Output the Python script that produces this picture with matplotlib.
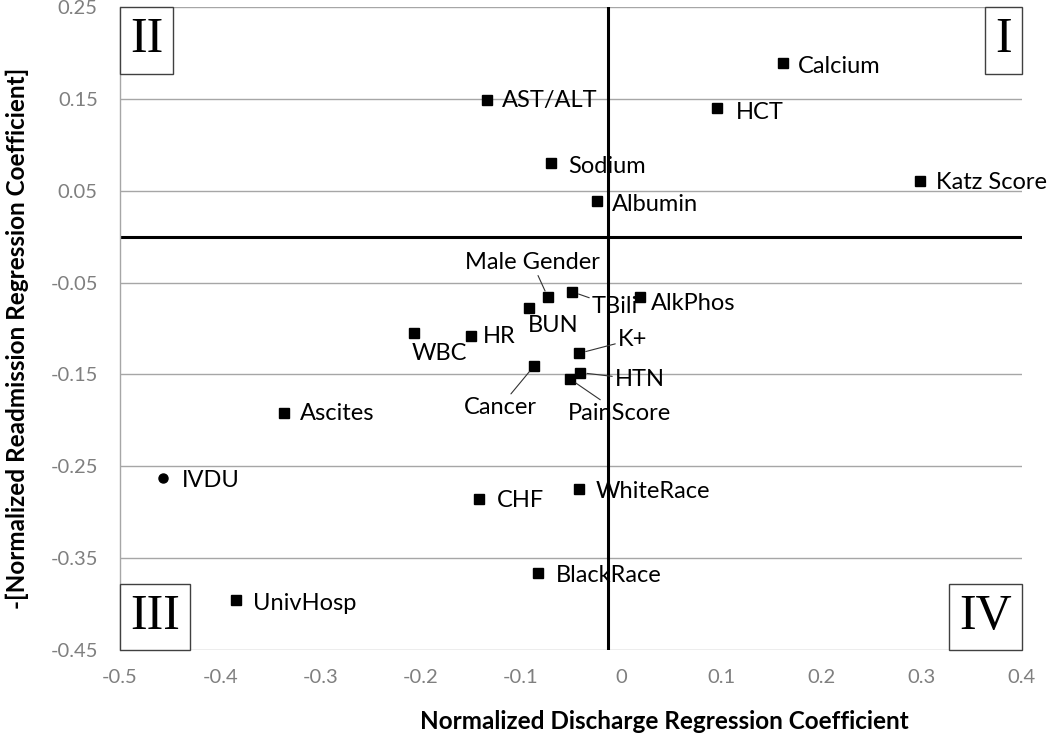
import matplotlib
matplotlib.use("Agg")
import matplotlib.pyplot as plt
from matplotlib.offsetbox import AnchoredText

plt.rcParams['font.family'] = ['Lato', 'DejaVu Sans']

# values
names = ['Calcium', 'HCT', 'Katz Score', 'AST/ALT', 'Sodium', 'Albumin',
         'Male Gender', 'BUN', 'TBili', 'AlkPhos', 'WBC', 'HR', 'K+',
         'Cancer', 'HTN', 'PainScore', 'Ascites', 'IVDU', 'CHF',
         'UnivHosp', 'WhiteRace', 'BlackRace']
discharge = [0.162, 0.096, 0.298, -0.134, -0.070, -0.024,
             -0.073, -0.092, -0.049, 0.019, -0.207, -0.150, -0.042,
             -0.087, -0.041, -0.051, -0.336, -0.457, -0.142,
             -0.384, -0.042, -0.083]
readmission = [0.189, 0.140, 0.061, 0.149, 0.080, 0.039,
               -0.066, -0.078, -0.060, -0.066, -0.105, -0.108, -0.127,
               -0.141, -0.148, -0.155, -0.192, -0.263, -0.286,
               -0.396, -0.275, -0.366]
circle_names = ['IVDU']

x_ticks = [-0.5, -0.4, -0.3, -0.2, -0.1, 0, 0.1, 0.2, 0.3, 0.4]
x_ticklabels = ['-0.5', '-0.4', '-0.3', '-0.2', '-0.1', '0', '0.1', '0.2', '0.3', '0.4']
y_ticks = [0.25, 0.15, 0.05, -0.05, -0.15, -0.25, -0.35, -0.45]
y_ticklabels = ['0.25', '0.15', '0.05', '-0.05', '-0.15', '-0.25', '-0.35', '-0.45']

# quadrant split
x_split = -0.013
y_split = 0.0

# label placement: (dx, dy) in pixels, horizontal alignment, leader line
label_pos = {
    'Calcium': (14, -3, 'left', False),
    'HCT': (19, -4, 'left', False),
    'Katz Score': (16, -2, 'left', False),
    'AST/ALT': (15, -1, 'left', False),
    'Sodium': (17, -3, 'left', False),
    'Albumin': (15, -4, 'left', False),
    'Male Gender': (-16, 35, 'center', True),
    'BUN': (-1, -17, 'left', False),
    'TBili': (20, -15, 'left', True),
    'AlkPhos': (11, -6, 'left', False),
    'WBC': (-2, -20, 'left', False),
    'HR': (12, -1, 'left', False),
    'K+': (39, 14, 'left', True),
    'Cancer': (-34, -41, 'center', True),
    'HTN': (35, -7, 'left', True),
    'PainScore': (-2, -34, 'left', True),
    'Ascites': (16, 0, 'left', False),
    'IVDU': (19, -2, 'left', False),
    'CHF': (18, -1, 'left', False),
    'UnivHosp': (17, -3, 'left', False),
    'WhiteRace': (17, -2, 'left', False),
    'BlackRace': (18, -3, 'left', False),
}

fig = plt.figure(figsize=(10.5, 7.46), dpi=100)
ax = fig.add_axes([120 / 1050, 1 - 650 / 746, 902 / 1050, 643 / 746])

ax.set_xlim(-0.5, 0.4)
ax.set_ylim(-0.45, 0.25)

# grid
for yv in y_ticks:
    ax.axhline(yv, color='#a6a6a6', lw=1.0, zorder=1)
for s in ['top', 'right', 'bottom']:
    ax.spines[s].set_visible(False)
ax.spines['left'].set_color('#a6a6a6')
ax.spines['left'].set_linewidth(1.0)

# quadrant lines
ax.axvline(x_split, color='black', lw=2.2, zorder=2)
ax.axhline(y_split, color='black', lw=2.2, zorder=2)

ax.set_xticks(x_ticks)
ax.set_xticklabels(x_ticklabels)
ax.set_yticks(y_ticks)
ax.set_yticklabels(y_ticklabels)
ax.tick_params(axis='both', length=0, labelsize=14.5, labelcolor='#7f7f7f')
ax.tick_params(axis='y', pad=16)
ax.tick_params(axis='x', pad=14)

for name, xv, yv in zip(names, discharge, readmission):
    marker = 'o' if name in circle_names else 's'
    ms = 6.5 if marker == 'o' else 7.5
    ax.plot(xv, yv, marker=marker, color='black', ms=ms, ls='none', zorder=4)
    dx, dy, ha, leader = label_pos[name]
    arrow = None
    if leader:
        arrow = dict(arrowstyle='-', color='#333333', lw=0.8, shrinkA=0, shrinkB=5)
    ax.annotate(name, (xv, yv), xytext=(dx, dy), textcoords='offset pixels',
                ha=ha, va='center', fontsize=17, color='black',
                arrowprops=arrow, zorder=5)

# quadrant labels
for txt, loc in [('II', 'upper left'), ('I', 'upper right'),
                 ('III', 'lower left'), ('IV', 'lower right')]:
    at = AnchoredText(txt, loc=loc, borderpad=0, pad=0.2, frameon=True,
                      prop=dict(size=36, family=['Liberation Serif', 'DejaVu Serif']))
    at.patch.set_edgecolor('#404040')
    at.patch.set_linewidth(1.0)
    at.set_zorder(6)
    ax.add_artist(at)

ax.set_xlabel('Normalized Discharge Regression Coefficient', fontsize=17.5,
              fontweight='bold')
ax.set_ylabel('-[Normalized Readmission Regression Coefficient]', fontsize=17.5,
              fontweight='bold')
ax.xaxis.set_label_coords(0.604, -0.093)
ax.yaxis.set_label_coords(-0.101, 0.485)

fig.savefig('out.png', dpi=100)
